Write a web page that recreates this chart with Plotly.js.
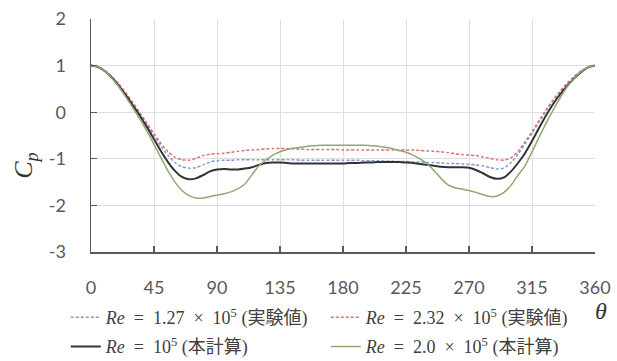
<!DOCTYPE html>
<html>
<head>
<meta charset="utf-8">
<script src="https://cdn.plot.ly/plotly-3.0.1.min.js"></script>
<style>html,body{margin:0;padding:0;background:#fff;}#chart{width:617px;height:361px;}</style>
</head>
<body>
<div id="chart"></div>
<script>
// angle (deg)
var theta = [0,5,10,15,20,25,30,35,40,45,50,55,60,65,70,75,80,85,90,95,100,105,110,115,120,125,130,135,140,145,150,155,160,165,170,175,180,185,190,195,200,205,210,215,220,225,230,235,240,245,250,255,260,265,270,275,280,285,290,295,300,305,310,315,320,325,330,335,340,345,350,355,360];

// Re = 1.27e5 (experiment)
var cpExp127 = [1.00,0.97,0.89,0.75,0.58,0.39,0.18,-0.04,-0.27,-0.50,-0.73,-0.93,-1.08,-1.17,-1.20,-1.19,-1.13,-1.07,-1.04,-1.03,-1.03,-1.02,-1.02,-1.02,-1.02,-1.02,-1.02,-1.02,-1.02,-1.02,-1.03,-1.03,-1.03,-1.03,-1.03,-1.03,-1.03,-1.03,-1.03,-1.04,-1.04,-1.04,-1.05,-1.05,-1.06,-1.06,-1.07,-1.07,-1.08,-1.08,-1.09,-1.10,-1.10,-1.11,-1.12,-1.13,-1.15,-1.19,-1.22,-1.20,-1.08,-0.90,-0.68,-0.45,-0.21,0.03,0.24,0.43,0.61,0.76,0.88,0.96,1.00];

// Re = 2.32e5 (experiment)
var cpExp232 = [1.00,0.97,0.89,0.76,0.60,0.41,0.20,-0.02,-0.24,-0.46,-0.67,-0.85,-0.97,-1.02,-1.03,-0.99,-0.93,-0.90,-0.89,-0.88,-0.86,-0.84,-0.82,-0.81,-0.80,-0.79,-0.78,-0.78,-0.78,-0.79,-0.79,-0.80,-0.80,-0.80,-0.80,-0.80,-0.81,-0.81,-0.81,-0.81,-0.81,-0.81,-0.81,-0.81,-0.81,-0.81,-0.81,-0.82,-0.83,-0.84,-0.85,-0.87,-0.89,-0.91,-0.92,-0.93,-0.96,-0.99,-1.02,-1.03,-0.98,-0.84,-0.64,-0.42,-0.18,0.05,0.26,0.45,0.62,0.76,0.88,0.96,1.00];

// Re = 1e5 (computation)
var cpCalc100 = [1.00,0.97,0.88,0.74,0.56,0.36,0.14,-0.08,-0.32,-0.58,-0.84,-1.07,-1.26,-1.39,-1.44,-1.42,-1.35,-1.27,-1.23,-1.22,-1.23,-1.23,-1.21,-1.18,-1.13,-1.09,-1.08,-1.08,-1.09,-1.10,-1.10,-1.10,-1.10,-1.10,-1.10,-1.10,-1.10,-1.09,-1.09,-1.08,-1.08,-1.07,-1.07,-1.07,-1.07,-1.08,-1.09,-1.11,-1.13,-1.15,-1.17,-1.18,-1.18,-1.18,-1.19,-1.24,-1.31,-1.39,-1.43,-1.40,-1.27,-1.09,-0.88,-0.62,-0.34,-0.07,0.17,0.38,0.56,0.72,0.86,0.96,1.00];

// Re = 2.0e5 (computation)
var cpCalc200 = [1.00,0.97,0.88,0.73,0.54,0.32,0.09,-0.15,-0.41,-0.69,-0.98,-1.26,-1.50,-1.68,-1.79,-1.84,-1.84,-1.81,-1.78,-1.75,-1.71,-1.64,-1.54,-1.34,-1.15,-1.02,-0.92,-0.85,-0.80,-0.77,-0.75,-0.73,-0.72,-0.71,-0.71,-0.71,-0.71,-0.71,-0.71,-0.71,-0.72,-0.73,-0.75,-0.78,-0.82,-0.86,-0.92,-1.00,-1.10,-1.25,-1.42,-1.56,-1.62,-1.65,-1.68,-1.72,-1.77,-1.81,-1.80,-1.72,-1.57,-1.35,-1.15,-0.85,-0.54,-0.24,0.04,0.30,0.54,0.72,0.87,0.96,1.00];

var names = [
  '<i>Re</i>\u00a0\u00a0=\u00a0\u00a01.27\u00a0\u00a0×\u00a0\u00a010<sup>5</sup>\u00a0(実験値)',
  '<i>Re</i>\u00a0\u00a0=\u00a0\u00a02.32\u00a0\u00a0×\u00a0\u00a010<sup>5</sup>\u00a0(実験値)',
  '<i>Re</i>\u00a0\u00a0=\u00a0\u00a010<sup>5</sup>\u00a0(本計算)',
  '<i>Re</i>\u00a0\u00a0=\u00a0\u00a02.0\u00a0\u00a0×\u00a0\u00a010<sup>5</sup>\u00a0(本計算)'
];
var xTicks = [0,45,90,135,180,225,270,315,360];
var yTicks = [-3,-2,-1,0,1,2];

var traces = [
  {x: theta, y: cpExp127, name: names[0], type:'scatter', mode:'lines', legend:'legend',
   line:{color:'#7f9ad6', width:1.5, dash:'3px,2px', shape:'spline', smoothing:0.6}},
  {x: theta, y: cpExp232, name: names[1], type:'scatter', mode:'lines', legend:'legend',
   line:{color:'#e07070', width:1.5, dash:'3px,2px', shape:'spline', smoothing:0.6}},
  {x: theta, y: cpCalc100, name: names[2], type:'scatter', mode:'lines', legend:'legend2',
   line:{color:'#333333', width:2, shape:'spline', smoothing:0.6}},
  {x: theta, y: cpCalc200, name: names[3], type:'scatter', mode:'lines', legend:'legend2',
   line:{color:'#8fa874', width:1.5, shape:'spline', smoothing:0.6}}
];

var legendFont = {family:'Liberation Serif, Noto Sans CJK JP, serif', size:18, color:'#404040'};
var layout = {
  width:617, height:361,
  margin:{l:91, r:22, t:19, b:109, autoexpand:false},
  paper_bgcolor:'#ffffff', plot_bgcolor:'#ffffff',
  showlegend:true,
  xaxis:{range:[0,360], tickvals:xTicks, ticktext:xTicks.map(String), showgrid:true, gridcolor:'#dedede', gridwidth:1,
    showline:true, linecolor:'#595959', linewidth:1.5, ticks:'inside', ticklen:6, tickcolor:'#595959', tickwidth:1.2,
    zeroline:false, ticklabelstandoff:19, tickfont:{family:'Lato, sans-serif', size:18, color:'#595959'}, fixedrange:true},
  yaxis:{range:[-3,2], tickvals:yTicks, ticktext:yTicks.map(String), showgrid:true, gridcolor:'#dedede', gridwidth:1,
    showline:true, linecolor:'#595959', linewidth:1.5, ticks:'inside', ticklen:6, tickcolor:'#595959', tickwidth:1.2,
    zeroline:false, ticklabelstandoff:20, tickfont:{family:'Lato, sans-serif', size:18, color:'#595959'}, fixedrange:true},
  legend:{orientation:'h', x:-0.05, xanchor:'left', y:-0.202, yanchor:'top', entrywidth:215, entrywidthmode:'pixels',
    font:legendFont, bgcolor:'rgba(0,0,0,0)', borderwidth:0, itemwidth:30},
  legend2:{orientation:'h', x:-0.05, xanchor:'left', y:-0.327, yanchor:'top', entrywidth:215, entrywidthmode:'pixels',
    font:legendFont, bgcolor:'rgba(0,0,0,0)', borderwidth:0, itemwidth:30},
  annotations:[
    {text:'<i>C<sub>p</sub></i>', xref:'paper', yref:'paper', x:-0.131, y:0.37, xanchor:'center', yanchor:'middle',
     showarrow:false, textangle:-90, font:{family:'Liberation Serif, serif', size:26, color:'#333333'}},
    {text:'<i>θ</i>', xref:'paper', yref:'paper', x:1.012, y:-0.253, xanchor:'center', yanchor:'middle',
     showarrow:false, font:{family:'Liberation Serif, serif', size:24, color:'#333333'}}
  ]
};
Plotly.newPlot('chart', traces, layout, {staticPlot:true, displayModeBar:false});
</script>
</body>
</html>
